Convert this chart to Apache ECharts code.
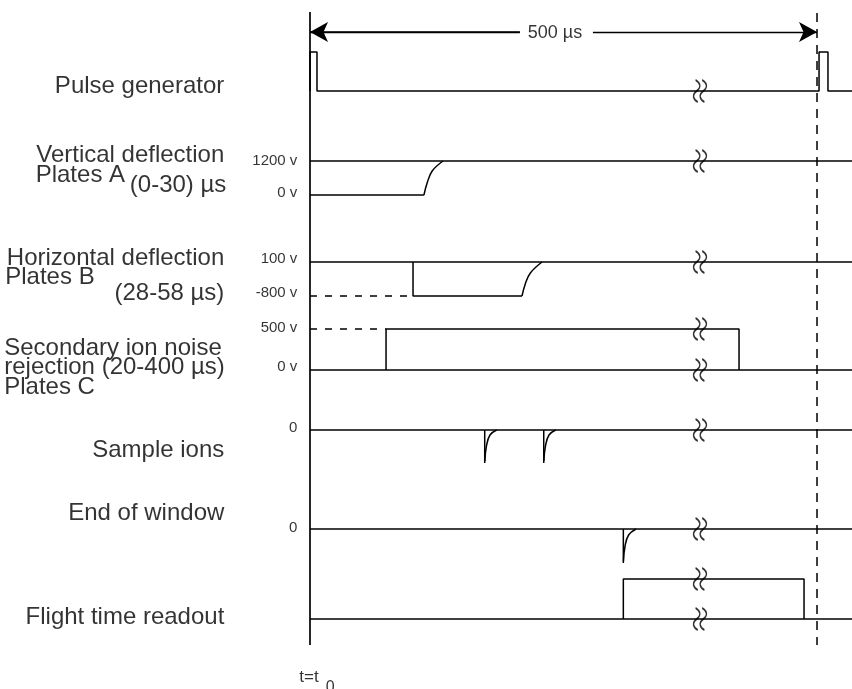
<!DOCTYPE html>
<html>
<head>
<meta charset="utf-8">
<script src="https://cdn.jsdelivr.net/npm/echarts@6/dist/echarts.min.js"></script>
<style>
html,body{margin:0;padding:0;background:#fff;}
#chart{width:852px;height:689px;}
</style>
</head>
<body>
<div id="chart"></div>
<script>
// ---------- data (x: diagram time in µs, t0 = 0, next pulse = 500; y: diagram level units) ----------
const X_END = 534.5;
const pulseTrace   = [[0,598],[0,637],[6.9,637],[6.9,598],[502,598],[502,637],[510.8,637],[510.8,598],[X_END,598]];
const vertAHigh    = [[0,528],[X_END,528]];
const vertALow     = [[0,494],[112.4,494]];
const vertARise    = [[112.4,494],[115.5,506],[120.5,518],[131.2,528]];
const horizBHigh   = [[0,427],[X_END,427]];
const horizBLow    = [[101.6,427],[101.6,393],[209.1,393]];
const horizBRise   = [[209.1,393],[212.3,405],[217.3,416],[228.8,427]];
const horizBRef    = [[0,393],[101.6,393]];
const secLow       = [[0,319],[X_END,319]];
const secHigh      = [[75,319],[75,360],[423.1,360],[423.1,319]];
const secRef       = [[0,360],[75,360]];
const sampleBase   = [[0,259],[X_END,259]];
const sampleSpike1 = [[172.3,259],[172.3,226]];
const sampleRec1   = [[172.4,228],[174.0,243],[177.5,254],[184.1,259]];
const sampleSpike2 = [[230.5,259],[230.5,226]];
const sampleRec2   = [[230.6,228],[232.2,243],[235.7,254],[242.3,259]];
const endBase      = [[0,160],[X_END,160]];
const endSpike     = [[309,160],[309,126]];
const endRec       = [[309.1,128],[310.7,143],[314.2,154],[321.5,160]];
const flightBase   = [[0,70],[X_END,70]];
const flightGate   = [[309,70],[309,110],[487.2,110],[487.2,70]];
const t0Axis       = [[0,677],[0,44]];
const periodMarker = [[500,676],[500,44]];
const arrowLeft    = [[207,657],[0,657]];
const arrowRight   = [[279,657],[500,657]];
const breakT       = 384.6;
const breakLevels  = [598,528,427,360,319,259,160,110,70];

// signal names, right aligned
const rightLabels = [
  ['Pulse generator', -84, 603],
  ['Vertical deflection', -84, 534],
  ['(0-30) µs', -82, 504],
  ['Horizontal deflection', -84, 431],
  ['(28-58 µs)', -84, 396],
  ['Sample ions', -84, 239],
  ['End of window', -84, 176],
  ['Flight time readout', -84, 72]
];
// signal names, left aligned
const leftLabels = [
  ['Plates A', -271, 514],
  ['Plates B', -301, 412],
  ['Secondary ion noise', -302, 341],
  ['rejection (20-400 µs)', -302, 322],
  ['Plates C', -302, 302]
];
// level tick labels
const tickLabels = [
  ['1200 v', -12, 528],
  ['0 v', -12, 496],
  ['100 v', -12, 430],
  ['-800 v', -12, 396],
  ['500 v', -12, 361],
  ['0 v', -12, 322],
  ['0', -12, 261],
  ['0', -12, 161]
];
const periodLabel = ['500 µs', 241.6, 656];
const t0Label = ['t=t', -11, 12];
const t0Sub = ['0', 15.0, 1];

// ---------- chart ----------
const FONT = '"Liberation Sans", Arial, Helvetica, sans-serif';
const INK = '#000';

function trace(data, opts) {
  opts = opts || {};
  return {
    type: 'line', data: data, symbol: 'none', smooth: opts.smooth || false,
    silent: true, z: 3,
    lineStyle: { color: INK, width: opts.width || 1.5, type: opts.dash || 'solid' },
    markLine: opts.markLine
  };
}
function labelSeries(list, pos, size, extra) {
  return {
    type: 'scatter', silent: true, symbolSize: 1, z: 5, clip: false,
    itemStyle: { color: 'rgba(0,0,0,0)' },
    data: list.map(l => ({ name: l[0], value: [l[1], l[2]] })),
    label: Object.assign({
      show: true, position: pos, distance: 0, formatter: p => p.name,
      color: INK, fontFamily: FONT, fontSize: size
    }, extra || {})
  };
}

const breakPath = 'path://M3 0 C8 3 8 7 4 10 C0 13 0 17 5 20 M9 0 C14 3 14 7 10 10 C6 13 6 17 11 20';

const option = {
  animation: false,
  backgroundColor: '#fff',
  grid: { left: 0, right: 0, top: 0, bottom: 0 },
  xAxis: { type: 'value', min: -305.7, max: X_END, show: false },
  yAxis: { type: 'value', min: 0, max: 689, show: false },
  series: [
    trace(t0Axis, { width: 1.7 }),
    trace(periodMarker, { dash: [9, 7], width: 1.5 }),
    trace(arrowLeft, { width: 1.3, markLine: {
      silent: true, symbol: ['none', 'arrow'], symbolSize: [15, 18],
      label: { show: false }, lineStyle: { color: INK, width: 1.3, type: 'solid' },
      data: [
        [{ coord: arrowLeft[0] }, { coord: arrowLeft[1] }],
        [{ coord: arrowRight[0] }, { coord: arrowRight[1] }]
      ] } }),
    trace(pulseTrace),
    trace(vertAHigh), trace(vertALow), trace(vertARise, { smooth: 0.4 }),
    trace(horizBHigh), trace(horizBLow), trace(horizBRise, { smooth: 0.4 }),
    trace(horizBRef, { dash: [7, 8] }),
    trace(secLow), trace(secHigh), trace(secRef, { dash: [7, 8] }),
    trace(sampleBase), trace(sampleSpike1), trace(sampleRec1, { smooth: 0.4 }),
    trace(sampleSpike2), trace(sampleRec2, { smooth: 0.4 }),
    trace(endBase), trace(endSpike), trace(endRec, { smooth: 0.4 }),
    trace(flightBase), trace(flightGate),
    {
      type: 'scatter', silent: true, z: 6,
      symbol: breakPath, symbolSize: [13, 22], symbolKeepAspect: false,
      itemStyle: { color: 'rgba(255,255,255,0)', borderColor: INK, borderWidth: 1.7 },
      data: breakLevels.map(y => [breakT, y])
    },
    labelSeries(rightLabels, 'left', 24),
    labelSeries(leftLabels, 'right', 24),
    labelSeries(tickLabels, 'left', 15),
    labelSeries([periodLabel], 'inside', 18, { backgroundColor: '#fff', padding: [0, 6] }),
    labelSeries([t0Label], 'right', 17),
    labelSeries([t0Sub], 'right', 16)
  ]
};

const chart = echarts.init(document.getElementById('chart'), null, { renderer: 'canvas' });
chart.setOption(option);
</script>
</body>
</html>
